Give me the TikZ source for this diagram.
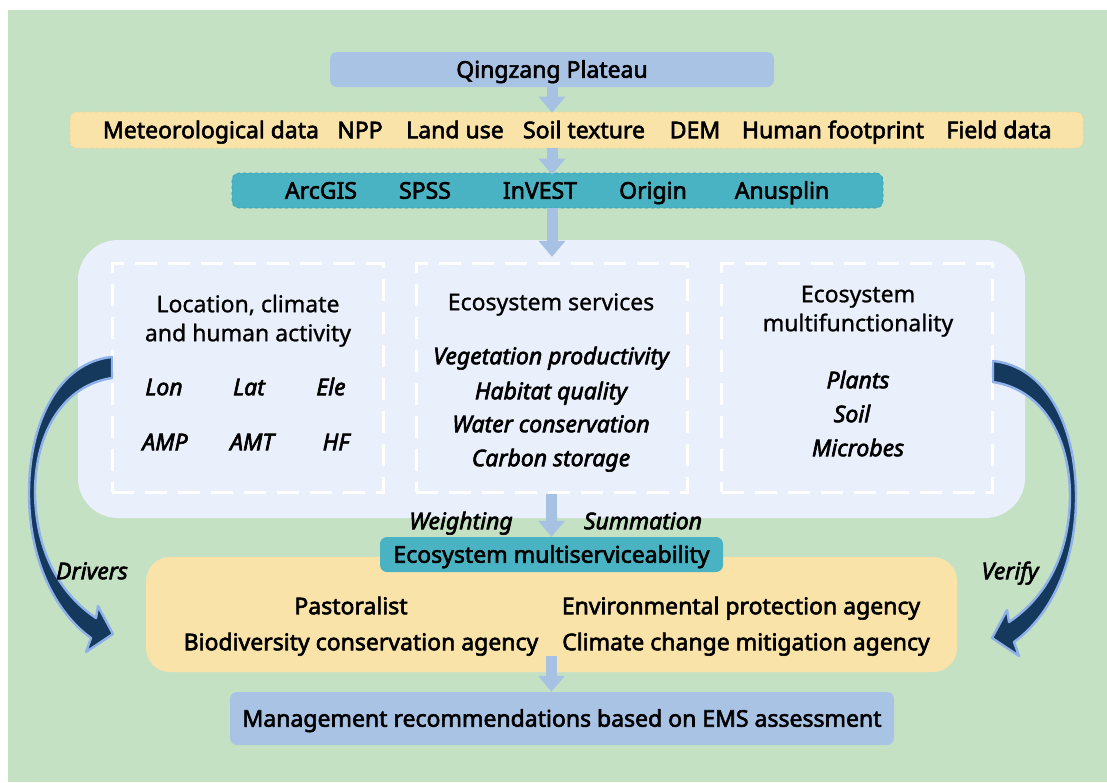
\documentclass[tikz,border=0pt]{standalone}
\usepackage{fontspec}
\setmainfont{Noto Sans}
\newfontfamily\medfont{Noto Sans}[FakeBold=2.6]
\newfontfamily\plainfont{Noto Sans}[FakeBold=1.0]
\usetikzlibrary{arrows.meta}

\definecolor{bggreen}{HTML}{C5E1C3}
\definecolor{steel}{HTML}{A9C3E5}
\definecolor{sand}{HTML}{FAE3A8}
\definecolor{sandedge}{HTML}{F0D493}
\definecolor{tealbox}{HTML}{4AB3C3}
\definecolor{tealedge}{HTML}{3A9DAD}
\definecolor{panelfill}{HTML}{E9F0FB}
\definecolor{navy}{HTML}{15395C}
\definecolor{rim}{HTML}{8FB1EA}
\definecolor{flow}{HTML}{A7C1E3}

\tikzset{
  every node/.style={font=\fontsize{23pt}{28pt}\selectfont, inner sep=0pt},
  txt/.style={text height=16.4pt, text depth=0pt},
  boldtxt/.style={txt, font=\fontsize{23pt}{28pt}\selectfont\medfont},
  itxt/.style={txt, font=\fontsize{23pt}{28pt}\selectfont\medfont\itshape},
  headtxt/.style={txt, font=\fontsize{23pt}{28pt}\selectfont\plainfont},
  panelbox/.style={rounded corners=7pt, minimum height=35pt},
  dashbox/.style={draw=white, line width=3pt, dash pattern=on 22pt off 11pt,
    minimum width=271pt, minimum height=229pt},
  flowarrow/.style={draw=flow, line width=11pt,
    -{Triangle[width=26pt,length=16pt]}},
  % tapered curved arrow, drawn from the left column down to the stakeholders
  bendarrow/.pic={
    \filldraw[fill=navy, draw=rim, line width=2.4pt, line join=round]
      (112,357) .. controls (60,362) and (29,420) .. (29,493)
      .. controls (29,560) and (55,612) .. (91,638)
      -- (86,652) -- (113,634) -- (98,606) -- (96,618)
      .. controls (62,595) and (36,555) .. (35,493)
      .. controls (35,430) and (65,385) .. (112,378) -- cycle;
  }
}

\begin{document}
\begin{tikzpicture}[x=1pt,y=-1pt]
\useasboundingbox (0,0) rectangle (1107,782);
\fill[white] (0,0) rectangle (1107,782);
\fill[bggreen] (8,10) rectangle (1107,782);

% study area
\node[panelbox, fill=steel, minimum width=444pt, boldtxt] (qz) at (552,69.5) {Qingzang Plateau};

% input data
\node[panelbox, fill=sand, draw=sandedge, dashed, line width=0.6pt,
      minimum width=1013pt, minimum height=36pt] (data) at (576.5,130) {};
\node[boldtxt] (d1) at (211,130) {Meteorological data};
\node[boldtxt] (d2) at (360,130) {NPP};
\node[boldtxt] (d3) at (455,130) {Land use};
\node[boldtxt] (d4) at (584,130) {Soil texture};
\node[boldtxt] (d5) at (695,130) {DEM};
\node[boldtxt] (d6) at (833,130) {Human footprint};
\node[boldtxt] (d7) at (999,130) {Field data};

% software
\node[panelbox, fill=tealbox, draw=tealedge, dashed, line width=0.6pt,
      minimum width=651pt] (tools) at (557.5,190.5) {};
\node[boldtxt] (t1) at (321,190.5) {ArcGIS};
\node[boldtxt] (t2) at (425,190.5) {SPSS};
\node[boldtxt] (t3) at (540,190.5) {InVEST};
\node[boldtxt] (t4) at (653,190.5) {Origin};
\node[boldtxt] (t5) at (782,190.5) {Anusplin};

% analysis panel
\node[fill=panelfill, rounded corners=40pt, minimum width=947pt, minimum height=278pt] (panel) at (551.5,379) {};
\node[dashbox] (lc) at (247.5,377.5) {};
\node[dashbox] (es) at (551.5,377.5) {};
\node[dashbox] (em) at (857,377.5) {};

\node[headtxt] (lc1) at (248,304) {Location, climate};
\node[headtxt] (lc2) at (248,333) {and human activity};
\node[itxt] (v1) at (164,387) {Lon};
\node[itxt] (v2) at (249,387) {Lat};
\node[itxt] (v3) at (331,387) {Ele};
\node[itxt] (v4) at (165,442) {AMP};
\node[itxt] (v5) at (252,442) {AMT};
\node[itxt] (v6) at (336,442) {HF};

\node[headtxt] (es0) at (551,302) {Ecosystem services};
\node[itxt] (es1) at (551,356) {Vegetation productivity};
\node[itxt] (es2) at (551,391) {Habitat quality};
\node[itxt] (es3) at (551,424) {Water conservation};
\node[itxt] (es4) at (551,458) {Carbon storage};

\node[headtxt] (em1) at (858,294) {Ecosystem};
\node[headtxt] (em2) at (858,323) {multifunctionality};
\node[itxt] (em3) at (858,380) {Plants};
\node[itxt] (em4) at (852,414) {Soil};
\node[itxt] (em5) at (858,448) {Microbes};

% stakeholders
\node[fill=sand, rounded corners=24pt, minimum width=811pt, minimum height=115pt] (yl) at (551.5,614.5) {};
\node[boldtxt] (s1) at (351,606) {Pastoralist};
\node[boldtxt] (s2) at (361,642) {Biodiversity conservation agency};
\node[boldtxt] (s3) at (741,606) {Environmental protection agency};
\node[boldtxt] (s4) at (746,642) {Climate change mitigation agency};

\node[panelbox, fill=tealbox, minimum width=343pt, boldtxt] (ems) at (551.5,554.5) {Ecosystem multiserviceability};
\node[itxt] (w) at (461,521) {Weighting};
\node[itxt] (s) at (643,521) {Summation};

% result
\node[panelbox, fill=steel, minimum width=664pt, minimum height=53pt, boldtxt] (mg) at (562,718.5) {Management recommendations based on EMS assessment};

% flow arrows
\draw[flowarrow] (qz.south) -- ([yshift=-1pt]qz.south |- data.north);
\draw[flowarrow] (qz.south |- data.south) -- ([yshift=-2pt]qz.south |- tools.north);
\draw[flowarrow] (qz.south |- tools.south) -- ([yshift=-17pt]qz.south |- panel.north);
\draw[flowarrow] (es.south) -- (es.south |- ems.north);
\coordinate (ylout) at ([yshift=16pt]yl.south);
\draw[flowarrow] (ylout) -- (ylout |- mg.north);

% drivers and verification
\pic at (0,0) {bendarrow};
\pic[xscale=-1] at (1105,4) {bendarrow};
\node[itxt] (dr) at (92,571) {Drivers};
\node[itxt] (vf) at (1010,571) {Verify};
\end{tikzpicture}
\end{document}
